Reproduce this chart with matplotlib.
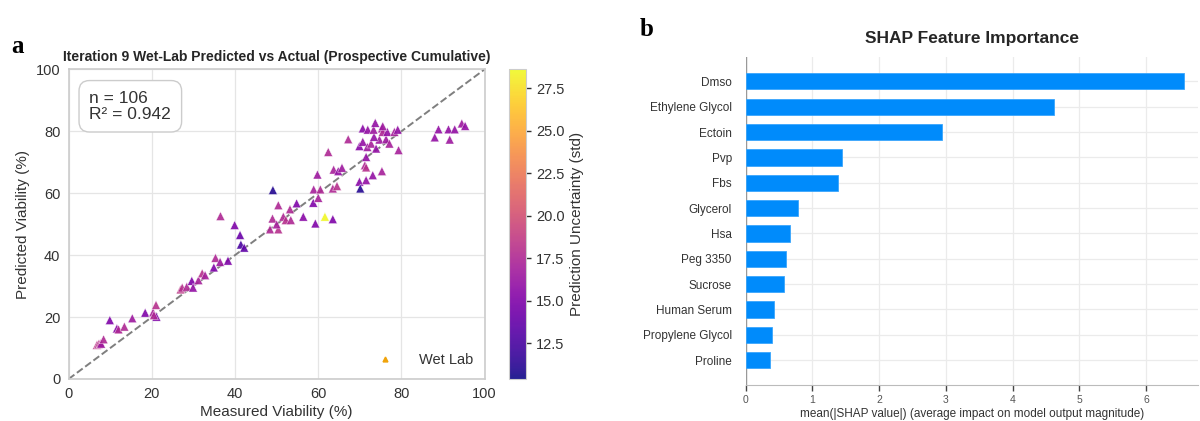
import matplotlib
matplotlib.use("Agg")
import matplotlib.pyplot as plt
import numpy as np
from matplotlib.lines import Line2D

plt.rcParams['font.family'] = ['Liberation Sans', 'DejaVu Sans']

# panel a: measured vs predicted viability, colour = prediction std
measured = [6.8, 7.2, 7.6, 7.8, 8.4, 9.9, 11.6, 12.0, 13.4, 15.3, 18.4, 20.3, 21.0, 21.1, 20.5,
            26.9, 27.3, 28.4, 29.6, 29.9, 31.2, 32.1, 32.8, 35.3, 34.9, 36.4, 38.3, 36.5, 39.9,
            41.2, 41.4, 42.2, 49.1, 48.4, 50.4, 49.0, 50.4, 50.0, 51.6, 52.2, 53.4, 53.2, 54.8,
            56.4, 58.8, 58.9, 59.3, 60.0, 59.8, 60.5, 61.6, 63.5, 62.4, 63.7, 64.8, 65.7, 63.5,
            64.5, 67.2, 69.9, 70.1, 71.5, 73.1, 75.3, 71.2, 71.5, 71.5, 69.9, 70.7, 71.8, 72.7,
            73.9, 74.7, 73.4, 70.7, 71.9, 73.3, 73.7, 75.3, 75.5, 76.3, 76.6, 77.1, 75.5, 78.3,
            79.1, 79.3, 88.0, 88.9, 91.3, 91.6, 92.8, 94.5, 95.3]
predicted = [11.0, 11.3, 11.5, 11.4, 12.8, 19.0, 16.3, 16.0, 16.9, 19.6, 21.4, 21.5, 23.9, 20.1, 20.6,
             28.9, 29.5, 29.8, 31.7, 29.5, 31.9, 34.1, 33.5, 39.1, 36.0, 37.8, 38.2, 52.6, 49.7,
             46.5, 43.4, 42.4, 61.0, 48.3, 48.3, 51.8, 56.1, 49.9, 52.4, 51.3, 51.3, 54.8, 56.7,
             52.4, 56.9, 61.2, 50.2, 58.5, 66.0, 61.2, 52.4, 51.6, 73.3, 67.6, 67.1, 68.2, 61.5,
             62.3, 77.4, 63.7, 61.5, 64.2, 65.8, 67.1, 69.0, 71.7, 68.3, 75.2, 76.6, 74.9, 76.0,
             74.4, 77.3, 78.2, 80.9, 80.5, 80.5, 82.7, 80.9, 79.8, 77.4, 79.8, 76.0, 81.6, 79.8,
             80.5, 73.9, 78.0, 80.6, 80.6, 77.3, 80.6, 82.5, 81.7]
uncertainty = [18.5, 18.0, 18.5, 16.5, 17.5, 15.0, 15.5, 17.5, 17.5, 16.5, 15.0, 17.0, 18.0, 15.0, 17.5,
               18.5, 18.0, 17.5, 15.0, 16.0, 17.0, 18.0, 17.0, 17.5, 15.0, 16.5, 15.0, 17.5, 15.0,
               14.0, 12.5, 13.5, 11.0, 17.5, 18.0, 17.5, 17.5, 17.0, 17.5, 18.0, 17.5, 17.5, 15.0,
               15.5, 15.0, 17.0, 15.0, 17.0, 16.5, 17.5, 28.5, 15.0, 17.5, 17.0, 16.0, 16.5, 17.5,
               18.0, 17.5, 15.5, 11.0, 16.0, 16.0, 17.0, 17.5, 16.0, 18.0, 15.5, 16.0, 16.5, 17.0,
               16.0, 16.5, 16.0, 15.5, 16.0, 16.5, 16.0, 17.0, 17.5, 16.5, 16.0, 17.0, 16.5, 17.0,
               16.0, 17.0, 16.0, 16.0, 16.0, 16.5, 16.0, 16.5, 16.0]
n_samples = 106
r2 = 0.942

# panel b: SHAP importances
features = ['Dmso', 'Ethylene Glycol', 'Ectoin', 'Pvp', 'Fbs', 'Glycerol', 'Hsa',
            'Peg 3350', 'Sucrose', 'Human Serum', 'Propylene Glycol', 'Proline']
shap_vals = [6.57, 4.62, 2.94, 1.44, 1.39, 0.79, 0.67, 0.61, 0.575, 0.43, 0.39, 0.37]

fig = plt.figure(figsize=(12, 4.21), dpi=100)

# ---- panel a ----
ax = fig.add_axes([0.0572, 0.0998, 0.3467, 0.7356])
ax.set_axisbelow(True)
ax.grid(True, color='#e5e5e5', linewidth=0.9)
for s in ax.spines.values():
    s.set_color('#cccccc')
    s.set_linewidth(1.2)
ax.plot([0, 100], [0, 100], '--', color='#7f7f7f', linewidth=1.4, zorder=1)
sc = ax.scatter(measured, predicted, c=uncertainty, cmap='plasma', vmin=10.4, vmax=28.6,
                marker='^', s=40, edgecolors='white', linewidths=0.3, alpha=0.9, zorder=3)
ax.set_xlim(0, 100)
ax.set_ylim(0, 100)
ax.set_xticks(range(0, 101, 20))
ax.set_yticks(range(0, 101, 20))
ax.tick_params(length=0, labelsize=10.5, labelcolor='#333333', pad=6)
ax.set_xlabel('Measured Viability (%)', fontsize=11, color='#333333', labelpad=3)
ax.set_ylabel('Predicted Viability (%)', fontsize=11, color='#333333', labelpad=4)
ax.set_title('Iteration 9 Wet-Lab Predicted vs Actual (Prospective Cumulative)',
             fontsize=10, fontweight='bold', color='#262626', pad=6)
ax.text(0.05, 0.93, f'n = {n_samples}\nR² = {r2:.3f}', transform=ax.transAxes,
        fontsize=12.5, color='#333333', va='top', ha='left', linespacing=1.05,
        bbox=dict(boxstyle='round,pad=0.6', facecolor='white', edgecolor='#cccccc', linewidth=1))
handle = Line2D([], [], marker='^', linestyle='none', color='#f0a30a', markersize=3.5)
ax.legend([handle], ['Wet Lab'], loc='lower right', frameon=False, fontsize=10.5,
          handletextpad=1.3, borderaxespad=0.4, labelcolor='#333333')

cax = fig.add_axes([0.4242, 0.0998, 0.0142, 0.7356])
cb = fig.colorbar(sc, cax=cax)
cb.set_ticks([12.5, 15.0, 17.5, 20.0, 22.5, 25.0, 27.5])
cb.ax.tick_params(labelsize=10.5, labelcolor='#333333', color='#333333', length=3.5, width=1)
cb.outline.set_edgecolor('#cccccc')
cb.set_label('Prediction Uncertainty (std)', fontsize=11, color='#333333')

fig.text(0.009, 0.875, 'a', fontsize=18, fontweight='bold', family='Liberation Serif')

# ---- panel b ----
bx = fig.add_axes([0.6214, 0.0855, 0.377, 0.779])
ypos = np.arange(len(features))[::-1]
bx.set_axisbelow(True)
bx.grid(True, color='#ebebeb', linewidth=0.9)
bx.axvline(0, color='#999999', linewidth=1, zorder=1)
bx.barh(ypos, shap_vals, height=0.64, color='#008bfb', edgecolor='#3aa6fc', linewidth=0.6, zorder=3)
bx.set_yticks(ypos)
bx.set_yticklabels(features)
bx.set_xlim(0, 6.78)
bx.set_ylim(-0.98, 11.96)
bx.set_xticks(range(0, 7))
bx.spines['top'].set_visible(False)
bx.spines['right'].set_visible(False)
bx.spines['left'].set_visible(False)
bx.spines['bottom'].set_color('#bbbbbb')
bx.tick_params(axis='y', length=0, labelsize=8.5, labelcolor='#333333', pad=10)
bx.tick_params(axis='x', length=4, width=1, color='#444444', labelsize=7.5, labelcolor='#555555')
bx.set_xlabel('mean(|SHAP value|) (average impact on model output magnitude)',
              fontsize=8.5, color='#333333', labelpad=2)
bx.set_title('SHAP Feature Importance', fontsize=12.5, fontweight='bold', color='#262626', pad=10)

fig.text(0.533, 0.915, 'b', fontsize=18, fontweight='bold', family='Liberation Serif')

fig.savefig('out.png', dpi=100)
